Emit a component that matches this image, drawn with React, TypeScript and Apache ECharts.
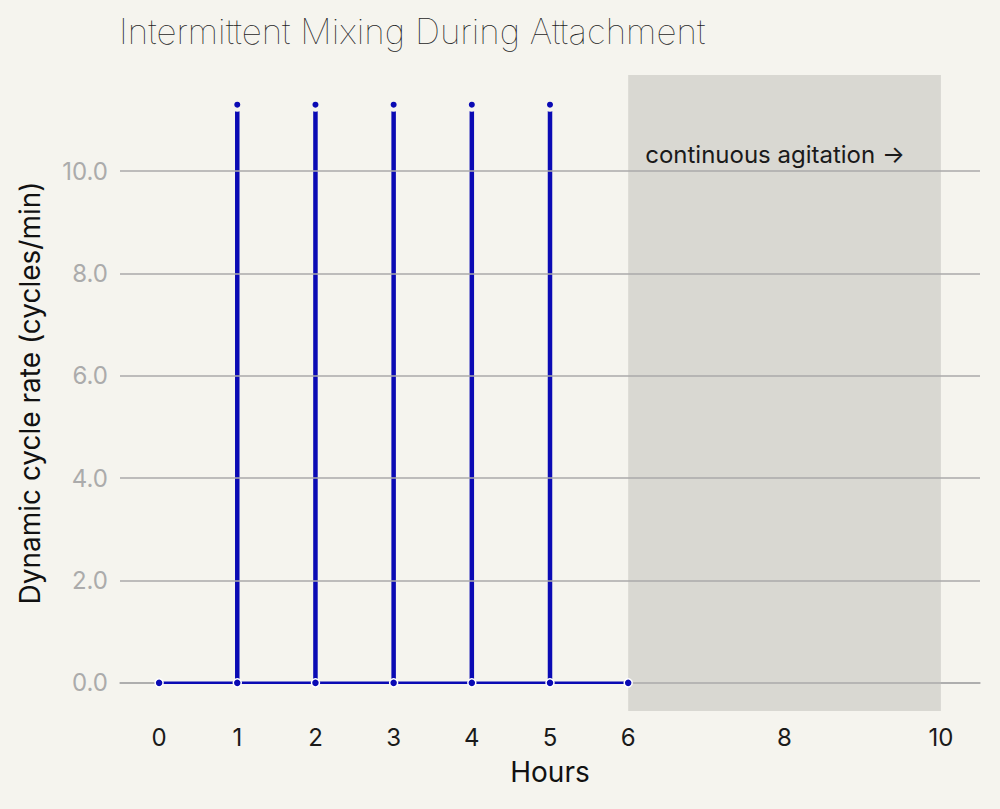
import { useEffect, useRef } from "react";
import * as echarts from "echarts";

// data
const hours = [0, 1, 2, 3, 4, 5, 6];
const baseRate = [0, 0, 0, 0, 0, 0, 0];
const pulseHours = [1, 2, 3, 4, 5];
const pulseRate = [11.3, 11.3, 11.3, 11.3, 11.3];
const xTicks = [0, 1, 2, 3, 4, 5, 6, 8, 10];
const yTicks = [0, 2, 4, 6, 8, 10];
const continuousStart = 6;
const continuousEnd = 10;

const BG = "#f5f4ee";
const BLUE = "#0a0ab4";
const GRID = "#aaaaaa";
const FONT = "Inter";

export default function App() {
  const ref = useRef<HTMLDivElement>(null);

  useEffect(() => {
    document.body.style.margin = "0";
    const el = ref.current;
    if (!el) return;
    const chart = echarts.init(el, null, { renderer: "svg" });

    const stems = pulseHours.map((h, i) => ({
      type: "line",
      z: 4,
      data: [
        [h, 0],
        [h, pulseRate[i]],
      ],
      showSymbol: false,
      lineStyle: { color: BLUE, width: 4.5 },
      silent: true,
    }));

    const option: echarts.EChartsOption = {
      animation: false,
      backgroundColor: BG,
      textStyle: { fontFamily: FONT },
      title: {
        text: "Intermittent Mixing During Attachment",
        left: 114,
        top: 8,
        textStyle: {
          fontFamily: "'Inter Thin', 'Inter ExtraLight', 'Inter Light', Inter",
          fontSize: 35,
          fontWeight: 200,
          color: "#1e1e1e",
        },
      },
      grid: { left: 120, right: 20, top: 75, bottom: 98 },
      xAxis: {
        type: "value",
        min: -0.5,
        max: 10.5,
        name: "Hours",
        nameLocation: "middle",
        nameGap: 47,
        nameTextStyle: { fontFamily: FONT, fontSize: 28, color: "#111" },
        axisLine: { show: true, lineStyle: { color: GRID, width: 1.5 } },
        axisTick: { show: false },
        splitLine: { show: false },
        axisLabel: {
          customValues: xTicks,
          color: "#1a1a1a",
          fontSize: 24,
          fontFamily: FONT,
          margin: 14,
        },
      },
      yAxis: {
        type: "value",
        min: -0.55,
        max: 11.88,
        name: "Dynamic cycle rate (cycles/min)",
        nameLocation: "middle",
        nameGap: 76,
        nameTextStyle: { fontFamily: FONT, fontSize: 28, color: "#111" },
        axisLine: { show: false },
        axisTick: { show: false },
        splitLine: { show: false },
        axisLabel: {
          customValues: yTicks,
          formatter: (v: number) => v.toFixed(1),
          color: "#ababab",
          fontSize: 24,
          fontFamily: FONT,
          margin: 12,
        },
      },
      series: [
        {
          type: "line",
          z: 1,
          data: [],
          silent: true,
          markArea: {
            silent: true,
            itemStyle: { color: "#d9d8d2" },
            label: {
              show: true,
              position: "insideTopLeft",
              distance: 0,
              offset: [17, 67],
              formatter: "continuous agitation →",
              color: "#1a1a1a",
              fontSize: 24,
              fontFamily: FONT,
            },
            data: [[{ xAxis: continuousStart }, { xAxis: continuousEnd }]],
          },
        },
        {
          type: "line",
          z: 2,
          data: [],
          silent: true,
          markLine: {
            silent: true,
            symbol: "none",
            label: { show: false },
            lineStyle: { color: GRID, width: 1.5, type: "solid" },
            data: yTicks.map((v) => ({ yAxis: v })),
          },
        },
        ...stems,
        {
          type: "line",
          z: 5,
          data: hours.map((h, i) => [h, baseRate[i]]),
          symbol: "circle",
          symbolSize: 8,
          showSymbol: true,
          lineStyle: { color: BLUE, width: 2.5 },
          itemStyle: { color: BLUE, borderColor: "#ffffff", borderWidth: 1.5 },
          silent: true,
        },
        {
          type: "scatter",
          z: 6,
          data: pulseHours.map((h, i) => [h, pulseRate[i]]),
          symbol: "circle",
          symbolSize: 10,
          itemStyle: { color: BLUE, borderColor: BG, borderWidth: 4, opacity: 1 },
          silent: true,
        },
      ] as any,
    };

    chart.setOption(option);
    return () => chart.dispose();
  }, []);

  return <div ref={ref} style={{ width: 1000, height: 809, background: BG }} />;
}
